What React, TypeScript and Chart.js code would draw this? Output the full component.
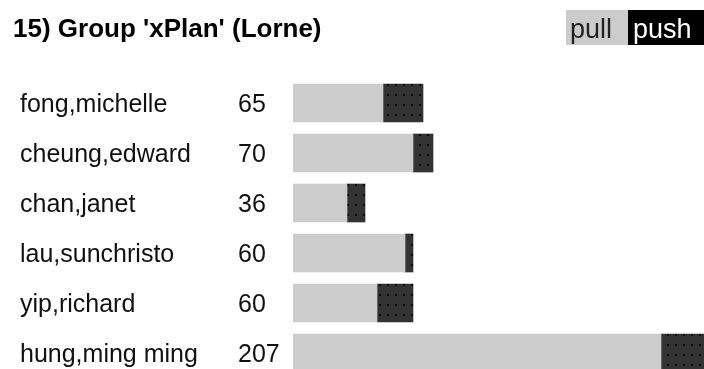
import React, { useEffect, useRef } from "react";
import { Chart, registerables } from "chart.js";

Chart.register(...registerables);

const title = "15) Group 'xPlan' (Lorne)";
const names = ["fong,michelle", "cheung,edward", "chan,janet", "lau,sunchristo", "yip,richard", "hung,ming ming"];
const pullValues = [45, 60, 27, 56, 42, 184];
const pushValues = [20, 10, 9, 4, 18, 23];
const seriesLabels = ["pull", "push"];

function makeDotPattern(): CanvasPattern | string {
  const c = document.createElement("canvas");
  c.width = 8;
  c.height = 10;
  const g = c.getContext("2d");
  if (!g) return "#333333";
  g.fillStyle = "#333333";
  g.fillRect(0, 0, 8, 10);
  g.fillStyle = "#000000";
  g.beginPath();
  g.arc(4, 5, 1, 0, Math.PI * 2);
  g.fill();
  const p = g.createPattern(c, "repeat");
  return p || "#333333";
}

export default function App() {
  const ref = useRef<HTMLCanvasElement | null>(null);
  useEffect(() => {
    if (!ref.current) return;
    const pattern = makeDotPattern();
    const textPlugin = {
      id: "textPlugin",
      afterDraw(chart: any) {
        const ctx = chart.ctx;
        const yScale = chart.scales.y;
        ctx.save();
        ctx.textBaseline = "alphabetic";
        ctx.fillStyle = "#000";
        ctx.font = "bold 26px 'Liberation Sans', Arial, sans-serif";
        ctx.textAlign = "left";
        ctx.fillText(title, 13, 37);
        ctx.font = "25px 'Liberation Sans', Arial, sans-serif";
        ctx.fillStyle = "#111";
        names.forEach((n, i) => {
          const y = yScale.getPixelForValue(i);
          ctx.fillText(n, 20, y + 9);
          ctx.fillText(String(pullValues[i] + pushValues[i]), 238, y + 9);
        });
        // legend
        ctx.font = "27px 'Liberation Sans', Arial, sans-serif";
        ctx.fillStyle = "#cccccc";
        ctx.fillRect(566, 10, 62, 35);
        ctx.fillStyle = "#000000";
        ctx.fillRect(628, 10, 76, 35);
        ctx.fillStyle = "#222";
        ctx.fillText(seriesLabels[0], 570, 38);
        ctx.fillStyle = "#fff";
        ctx.fillText(seriesLabels[1], 633, 38);
        ctx.restore();
      },
    };
    const chart = new Chart(ref.current, {
      type: "bar",
      data: {
        datasets: [
          {
            label: seriesLabels[0],
            data: pullValues.map((v, i) => ({ x: v, y: i })),
            backgroundColor: "#cccccc",
            borderWidth: 0,
            barThickness: 38,
          },
          {
            label: seriesLabels[1],
            data: pushValues.map((v, i) => ({ x: v, y: i })),
            backgroundColor: pattern as any,
            borderWidth: 0,
            barThickness: 38,
          },
        ],
      },
      options: {
        indexAxis: "y",
        responsive: false,
        animation: false,
        layout: { padding: { left: 293, right: 0, top: 78, bottom: 0 } },
        plugins: { legend: { display: false }, tooltip: { enabled: false }, title: { display: false } },
        scales: {
          x: { type: "linear", min: 0, max: 205.5, stacked: true, display: false, offset: false },
          y: { type: "linear", min: -0.5, max: 5.32, reverse: true, stacked: true, display: false, offset: false },
        },
      },
      plugins: [textPlugin],
    } as any);
    return () => chart.destroy();
  }, []);
  return (
    <div style={{ position: "fixed", left: 0, top: 0, width: 704, height: 369, background: "#fff" }}>
      <canvas ref={ref} width={704} height={369} style={{ display: "block" }} />
    </div>
  );
}
